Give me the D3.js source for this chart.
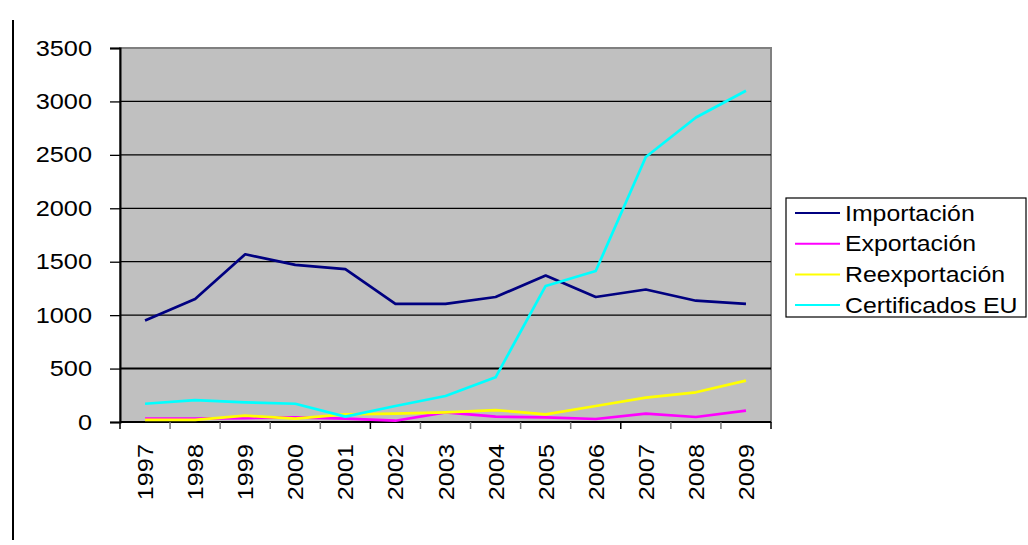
<!DOCTYPE html>
<html>
<head>
	<meta charset="utf-8">
	<script src="https://d3js.org/d3.v7.min.js"></script>
	<style>
		body { margin: 0; background: #fff; }
		text { font-family: "Liberation Sans", Arial, sans-serif; fill: #000; }
	</style>
</head>
<body>
	<script>
		// data
		var years = ["1997", "1998", "1999", "2000", "2001", "2002", "2003", "2004", "2005", "2006", "2007", "2008", "2009"];
		var importacion = [950, 1150, 1570, 1470, 1430, 1105, 1105, 1170, 1370, 1170, 1240, 1135, 1105];
		var exportacion = [31, 31, 37, 44, 31, 12, 90, 50, 44, 28, 78, 47, 106];
		var reexportacion = [19, 19, 59, 31, 72, 78, 90, 112, 72, 150, 228, 278, 387];
		var certificados = [171, 205, 184, 171, 50, 150, 243, 418, 1273, 1413, 2480, 2850, 3100];
		var yTicks = [0, 500, 1000, 1500, 2000, 2500, 3000, 3500];

		var series = [
			{name: "Importación", values: importacion, color: "#000080"},
			{name: "Exportación", values: exportacion, color: "#ff00ff"},
			{name: "Reexportación", values: reexportacion, color: "#ffff00"},
			{name: "Certificados EU", values: certificados, color: "#00ffff"}
		];

		var svgWidth = 1028,
			svgHeight = 545,
			stretch = 1.15, // the original text is drawn a bit wide
			plot = {left: 120, top: 48, right: 771, bottom: 422},
			svg = d3.select("body")
				.append("svg")
				.attr("width", svgWidth)
				.attr("height", svgHeight);

		var x = d3.scaleBand()
				.domain(years)
				.range([plot.left, plot.right]),
			y = d3.scaleLinear()
				.domain([0, 3500])
				.range([plot.bottom, plot.top]);

		// left rule of the page
		svg.append("line")
			.attr("x1", 13).attr("x2", 13)
			.attr("y1", 20).attr("y2", 540)
			.attr("stroke", "#000")
			.attr("stroke-width", 2);

		// plot background
		svg.append("rect")
			.attr("x", plot.left)
			.attr("y", plot.top)
			.attr("width", plot.right - plot.left)
			.attr("height", plot.bottom - plot.top)
			.attr("fill", "#c0c0c0")
			.attr("stroke", "#808080")
			.attr("stroke-width", 2);

		// gridlines
		svg.append("g")
			.selectAll("line")
			.data(yTicks.filter(function(d) { return d > 0 && d < 3500; }))
			.enter().append("line")
			.attr("x1", plot.left).attr("x2", plot.right)
			.attr("y1", function(d) { return y(d); })
			.attr("y2", function(d) { return y(d); })
			.attr("stroke", "#000")
			.attr("stroke-width", function(d) { return d === 500 ? 2 : 1.2; });

		// y axis
		var yAxis = svg.append("g")
			.attr("transform", "translate(" + plot.left + ",0)")
			.call(d3.axisLeft(y).tickValues(yTicks).tickFormat(d3.format("d")).tickSize(10).tickPadding(0));
		yAxis.select(".domain").attr("stroke", "#000").attr("stroke-width", 2);
		yAxis.selectAll(".tick line").attr("stroke", "#000").attr("stroke-width", 1.3);
		yAxis.selectAll("text")
			.attr("x", null)
			.attr("transform", "translate(-28,0) scale(" + stretch + ",1)")
			.attr("font-size", 22)
			.attr("fill", "#000")
			.style("font-family", "'Liberation Sans', Arial, sans-serif");

		// x axis: ticks between categories
		svg.append("line")
			.attr("x1", plot.left).attr("x2", plot.right)
			.attr("y1", plot.bottom).attr("y2", plot.bottom)
			.attr("stroke", "#000")
			.attr("stroke-width", 2);
		svg.append("g")
			.selectAll("line")
			.data(years.concat(["end"]))
			.enter().append("line")
			.attr("x1", function(d, i) { return plot.left + i * x.step(); })
			.attr("x2", function(d, i) { return plot.left + i * x.step(); })
			.attr("y1", plot.bottom)
			.attr("y2", plot.bottom + 7)
			.attr("stroke", function(d, i) { return (i === 0 || i === 5 || i === 10 || i === 13) ? "#000" : "#777"; })
			.attr("stroke-width", 1.5);

		svg.append("g")
			.selectAll("text")
			.data(years)
			.enter().append("text")
			.attr("transform", function(d) {
				return "translate(" + (x(d) + x.bandwidth() / 2 + 8) + "," + 444 + ") rotate(-90) scale(" + stretch + ",1)";
			})
			.attr("text-anchor", "end")
			.attr("font-size", 22)
			.text(function(d) { return d; });

		// series lines
		var line = d3.line()
			.x(function(d, i) { return x(years[i]) + x.bandwidth() / 2; })
			.y(function(d) { return y(d); });

		svg.append("g")
			.selectAll("path")
			.data(series)
			.enter().append("path")
			.attr("d", function(d) { return line(d.values); })
			.attr("fill", "none")
			.attr("stroke", function(d) { return d.color; })
			.attr("stroke-width", 2.7)
			.attr("stroke-linejoin", "round");

		// legend
		var legend = svg.append("g")
			.attr("transform", "translate(786,198)");
		legend.append("rect")
			.attr("width", 240)
			.attr("height", 119)
			.attr("fill", "#fff")
			.attr("stroke", "#000")
			.attr("stroke-width", 1.2);
		var item = legend.selectAll(".item")
			.data(series)
			.enter().append("g")
			.attr("class", "item")
			.attr("transform", function(d, i) { return "translate(0," + (15 + i * 30.7) + ")"; });
		item.append("line")
			.attr("x1", 9).attr("x2", 54)
			.attr("stroke", function(d) { return d.color; })
			.attr("stroke-width", 2);
		item.append("text")
			.attr("transform", "translate(59,0) scale(" + stretch + ",1)")
			.attr("dy", "0.36em")
			.attr("font-size", 21.6)
			.text(function(d) { return d.name; });
	</script>
</body>
</html>
